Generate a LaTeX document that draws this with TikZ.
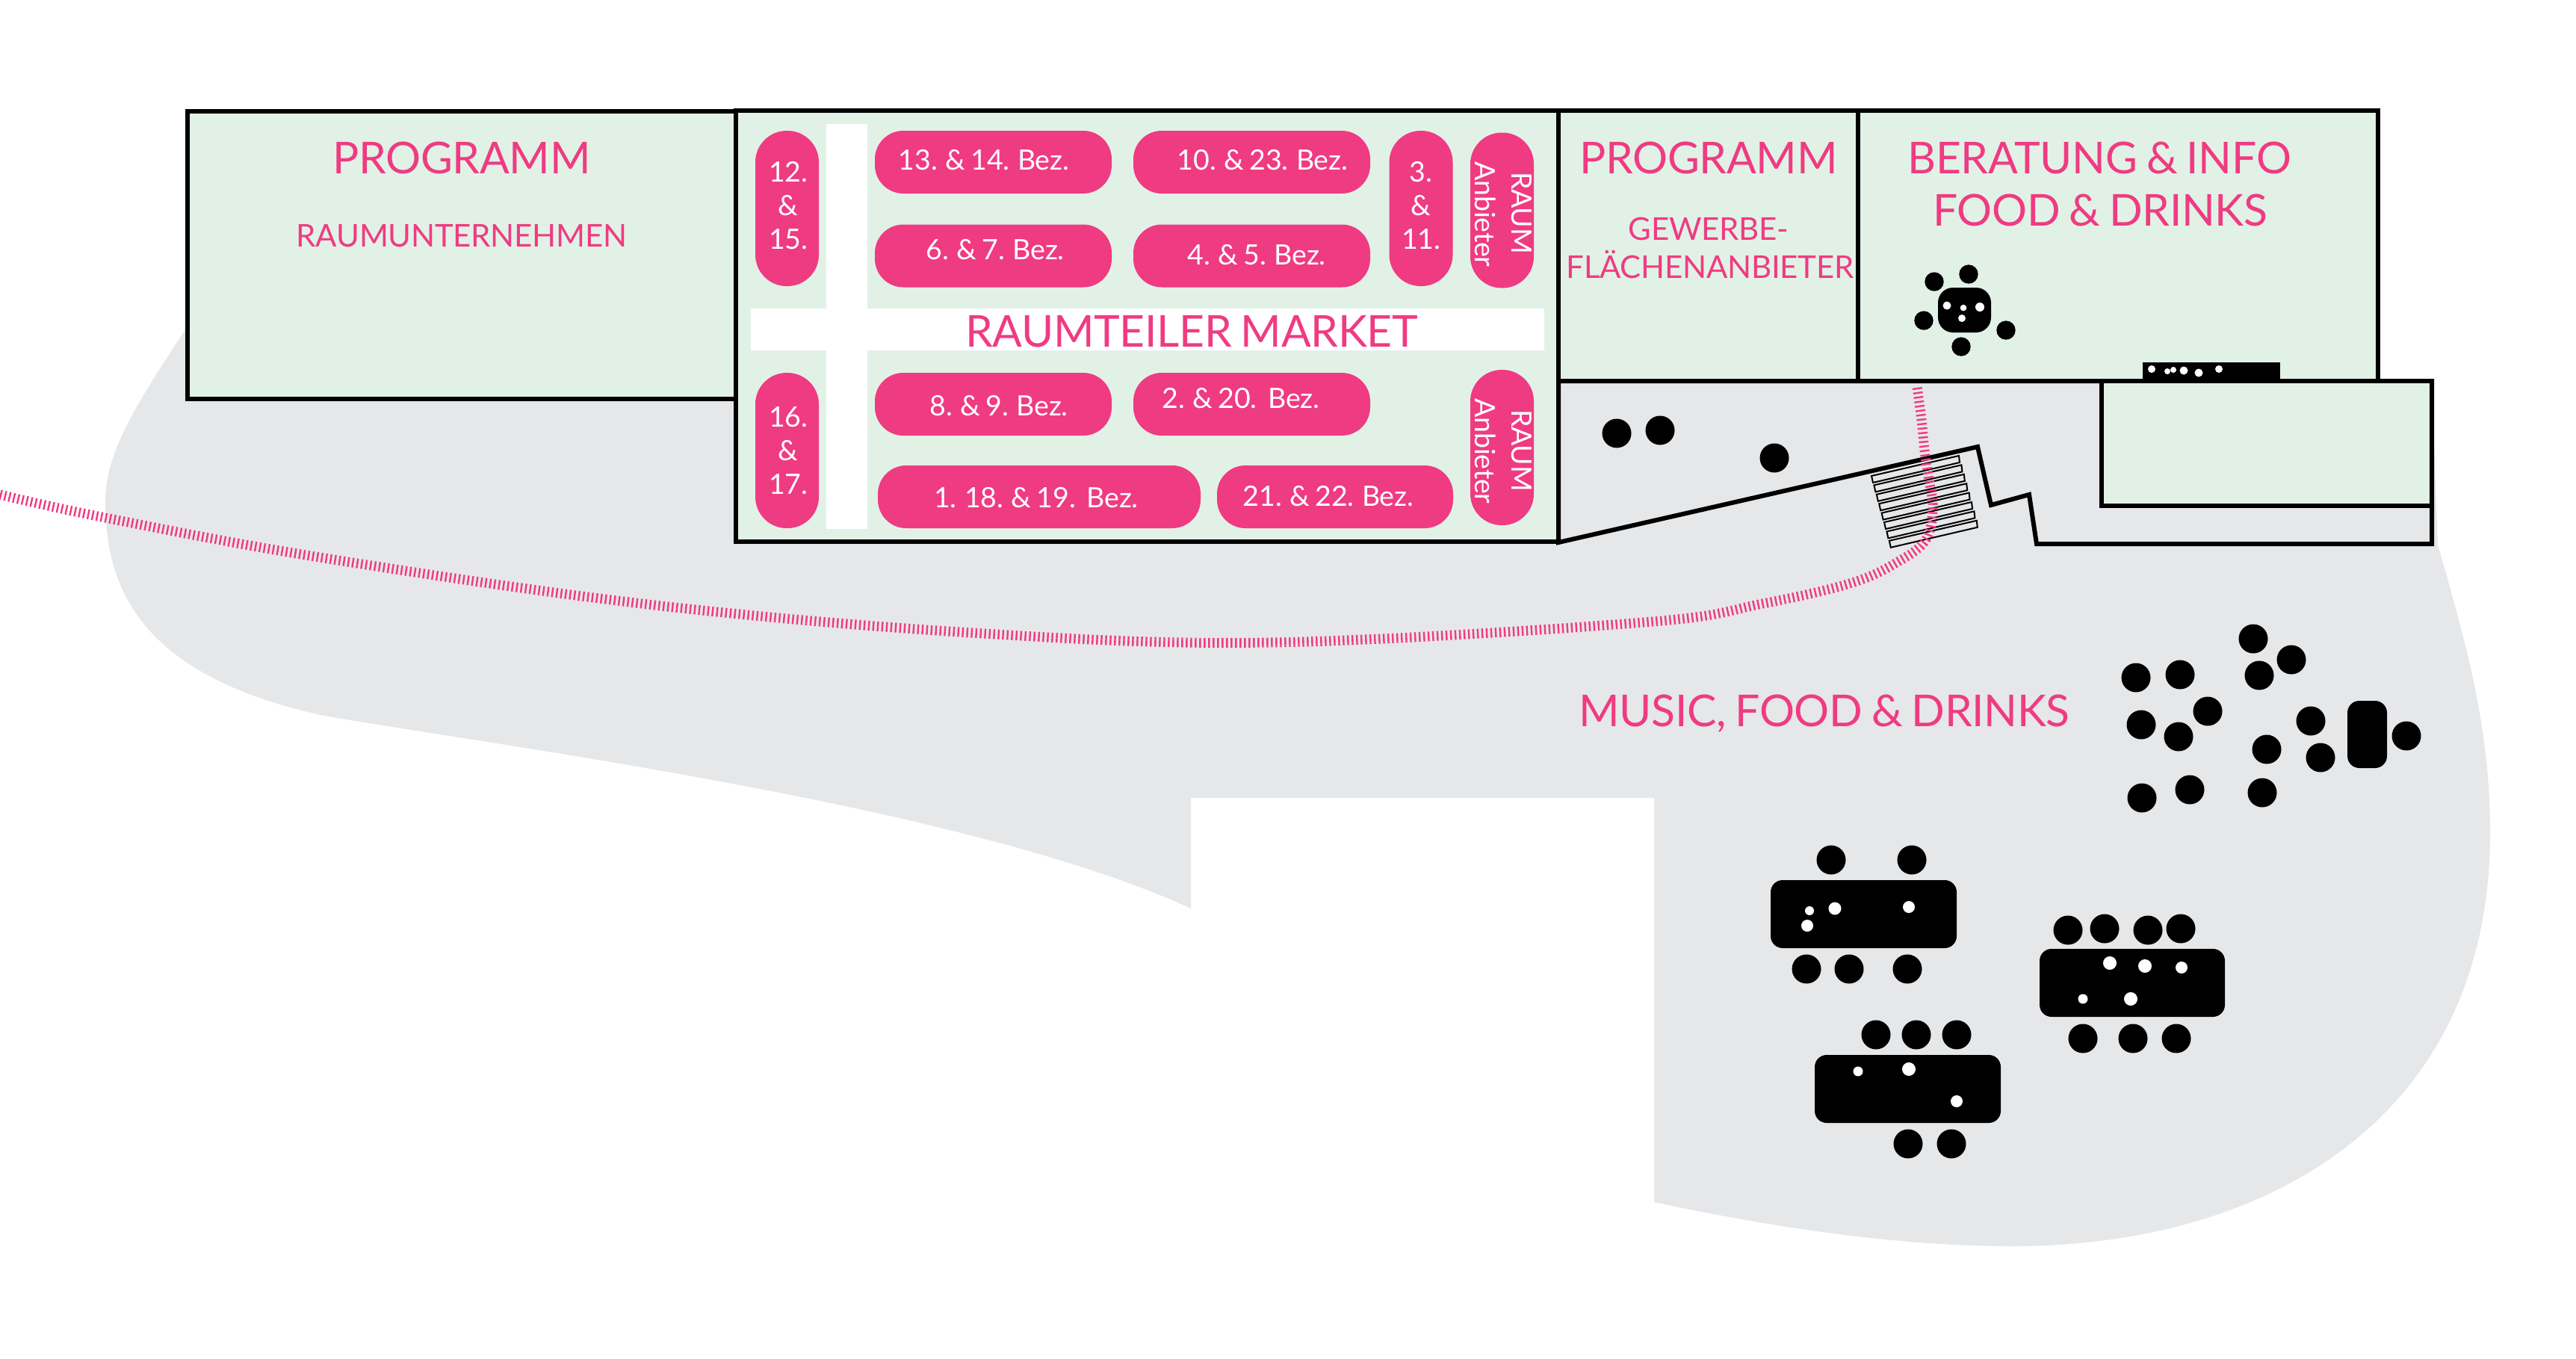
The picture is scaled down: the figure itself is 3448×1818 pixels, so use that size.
\documentclass[tikz,border=0pt]{standalone}
\usepackage{fontspec}
\setmainfont{Lato}[LetterSpace=-0.6,WordSpace=0.8]
\definecolor{hotpink}{HTML}{EF3B82}
\definecolor{paleg}{HTML}{E2F1E6}
\definecolor{greyzone}{HTML}{E6E7E9}
\tikzset{
  wall/.style={draw=black,line width=6pt,line join=miter},
  room/.style={wall,fill=paleg},
  pill/.style={fill=hotpink,inner sep=0pt,rounded corners=38pt},
  vpill/.style={fill=hotpink,inner sep=0pt,rounded corners=42pt,minimum width=85pt,minimum height=208pt},
  ptext/.style={text=white,inner sep=0pt,font=\fontsize{37.5}{45}\selectfont,align=center},
  bigtxt/.style={text=hotpink,inner sep=0pt,font=\fontsize{58.8}{70}\selectfont},
  midtxt/.style={text=hotpink,inner sep=0pt,font=\fontsize{42}{50}\selectfont},
  table/.style={fill=black,rounded corners=16pt},
  tread/.style={draw=black,line width=2pt},
  trail/.style={draw=hotpink,line width=13pt,dash pattern=on 2.4pt off 3.6pt}
}
\begin{document}
\begin{tikzpicture}[x=1pt,y=-1pt]
\useasboundingbox (0,0) rectangle (3448,1818);
% grey ground
\fill[greyzone] (262,420) .. controls (190,530) and (141,600) .. (141,671)
  .. controls (141,790) and (190,905) .. (434,958)
  .. controls (678,1000) and (1300,1080) .. (1594,1216)
  -- (1594,1068) -- (2214,1068) -- (2214,1609)
  .. controls (2360,1640) and (2530,1668) .. (2694,1668)
  .. controls (3030,1668) and (3333,1500) .. (3333,1115)
  .. controls (3333,970) and (3300,860) .. (3263,729)
  -- (3255,510) -- (262,510) -- cycle;
% rooms
\draw[room] (251,149) rectangle (985,534);
\draw[room] (985,148) rectangle (2086,725);
\draw[room] (2086,148) rectangle (2487,510);
\draw[room] (2487,148) rectangle (3183,510);
\draw[wall,fill=greyzone] (2086,510) -- (3255,510) -- (3255,728) -- (2726,728) -- (2716,662) -- (2665,676) -- (2647,598) -- (2086,726) -- cycle;
\draw[room] (2813,510) rectangle (3255,677);
% market aisles
\fill[white] (1106,166) rectangle (1161,708);
\fill[white] (1005,413) rectangle (2067,469);
% pills
\node[pill,minimum width=317pt,minimum height=84pt] (p13) at (1329.5,217) {};
\node[pill,minimum width=317pt,minimum height=84pt] (p10) at (1675.5,217) {};
\node[pill,minimum width=317pt,minimum height=84pt] (p6) at (1329.5,342.5) {};
\node[pill,minimum width=317pt,minimum height=84pt] (p4) at (1675.5,342.5) {};
\node[pill,minimum width=317pt,minimum height=84pt] (p8) at (1329.5,541) {};
\node[pill,minimum width=317pt,minimum height=84pt] (p2) at (1675.5,541) {};
\node[pill,minimum width=432pt,minimum height=84pt] (p1) at (1391,665) {};
\node[pill,minimum width=316pt,minimum height=84pt] (p21) at (1787,665) {};
\node[vpill] (p12) at (1053.5,279) {};
\node[vpill] (p3) at (1902,279) {};
\node[vpill] (p16) at (1053.5,603) {};
\node[vpill] (r1) at (2010.5,281.5) {};
\node[vpill] (r2) at (2010.5,599) {};
% pill labels
\node[ptext] (t13) at (1317,214) {13. \& 14. Bez.};
\node[ptext] (t10) at (1690,214) {10. \& 23. Bez.};
\node[ptext] (t6) at (1332,334) {6. \& 7. Bez.};
\node[ptext] (t4) at (1682,341) {4. \& 5. Bez.};
\node[ptext] (t8) at (1337,543) {8. \& 9. Bez.};
\node[ptext] (t2) at (1661,533) {2. \& 20.\ \ Bez.};
\node[ptext] (t1) at (1387,666) {1. 18. \& 19.\ \ Bez.};
\node[ptext] (t21) at (1778,664) {21. \& 22. Bez.};
\node[ptext] (t12) at (1055,275) {12.\\\&\\15.};
\node[ptext] (t3) at (1902,275) {3.\\\&\\11.};
\node[ptext] (t16) at (1055,603) {16.\\\&\\17.};
\node[ptext,rotate=-90] (ra1) at (2037,285) {RAUM};
\node[ptext,rotate=-90] (an1) at (1988,287) {Anbieter};
\node[ptext,rotate=-90] (ra2) at (2037,603) {RAUM};
\node[ptext,rotate=-90] (an2) at (1988,604) {Anbieter};
% headings
\node[bigtxt] (h1) at (618,211) {PROGRAMM};
\node[midtxt] (h1b) at (618,316) {RAUMUNTERNEHMEN};
\node[bigtxt] (h2) at (1595,444) {RAUMTEILER MARKET};
\node[bigtxt] (h3) at (2287,211) {PROGRAMM};
\node[midtxt] (h3a) at (2287,306) {GEWERBE-};
\node[midtxt] (h3b) at (2289,354) {FLÄCHENANBIETER};
\node[bigtxt] (h4) at (2810,211) {BERATUNG \& INFO};
\node[bigtxt] (h5) at (2811,281) {FOOD \& DRINKS};
\node[bigtxt] (h6) at (2442,955) {MUSIC, FOOD \& DRINKS};
% stairs
\foreach \i in {0,...,7}
  \draw[tread,shift={(\i*3.4,\i*12.4)}] (2505,637) -- (2622,610) -- (2623,619) -- (2507,646) -- cycle;
% trail
\draw[trail] plot[smooth,tension=0.6] coordinates {(0,662) (141,693) (434,747) (868,809) (1301,847) (1700,860) (2200,833) (2359,808) (2479,780) (2542,751) (2578,722) (2587,680) (2582,642) (2576,603) (2572,562) (2566,518)};
% furniture in the yard
\foreach \x/\y in {2164/580,2222/576,2375/613,
  3016/855,3067/883,3024/904,2859/907,2918/903,2955/952,2866/970,2916/986,3093/965,3034/1003,3106/1014,2867/1068,2931/1057,3028/1061,3221/985,
  2451/1151,2559/1151,2418/1297,2475/1297,2553/1297,
  2768/1245,2817/1243,2875/1245,2919/1243,2788/1390,2855/1390,2913/1390,
  2511/1385,2565/1385,2619/1385,2554/1531,2612/1531}
  \fill (\x,\y) circle (19.5pt);
\fill[table] (3142,938) rectangle (3195,1028);
\fill[table] (2370,1178) rectangle (2619,1269);
\fill[table] (2730,1270) rectangle (2978,1361);
\fill[table] (2429,1412) rectangle (2678,1503);
\foreach \x/\y/\r in {2422/1219/6,2456/1216/8.5,2555/1214/8,2419/1239/8,
  2824/1289/9,2871/1293/9,2920/1295/8,2788/1337/6.5,2852/1337/9,
  2487/1434/6.5,2555/1431/9,2619/1474/8}
  \fill[white] (\x,\y) circle (\r pt);
% furniture inside
\fill[table,rounded corners=20pt] (2594,385) rectangle (2665,445);
\foreach \x/\y in {2589/377,2635/367,2575/429,2685/442,2625/464}
  \fill (\x,\y) circle (12.7pt);
\foreach \x/\y/\r in {2606/409/5.5,2628/412/4.3,2650/411/6,2626/426/5}
  \fill[white] (\x,\y) circle (\r pt);
\fill (2868,485) rectangle (3052,507);
\foreach \x/\y/\r in {2880/494/5,2901/497/4,2909/495/4,2923/496/5.5,2943/499/5.5,2970/494/5}
  \fill[white] (\x,\y) circle (\r pt);
\end{tikzpicture}
\end{document}
